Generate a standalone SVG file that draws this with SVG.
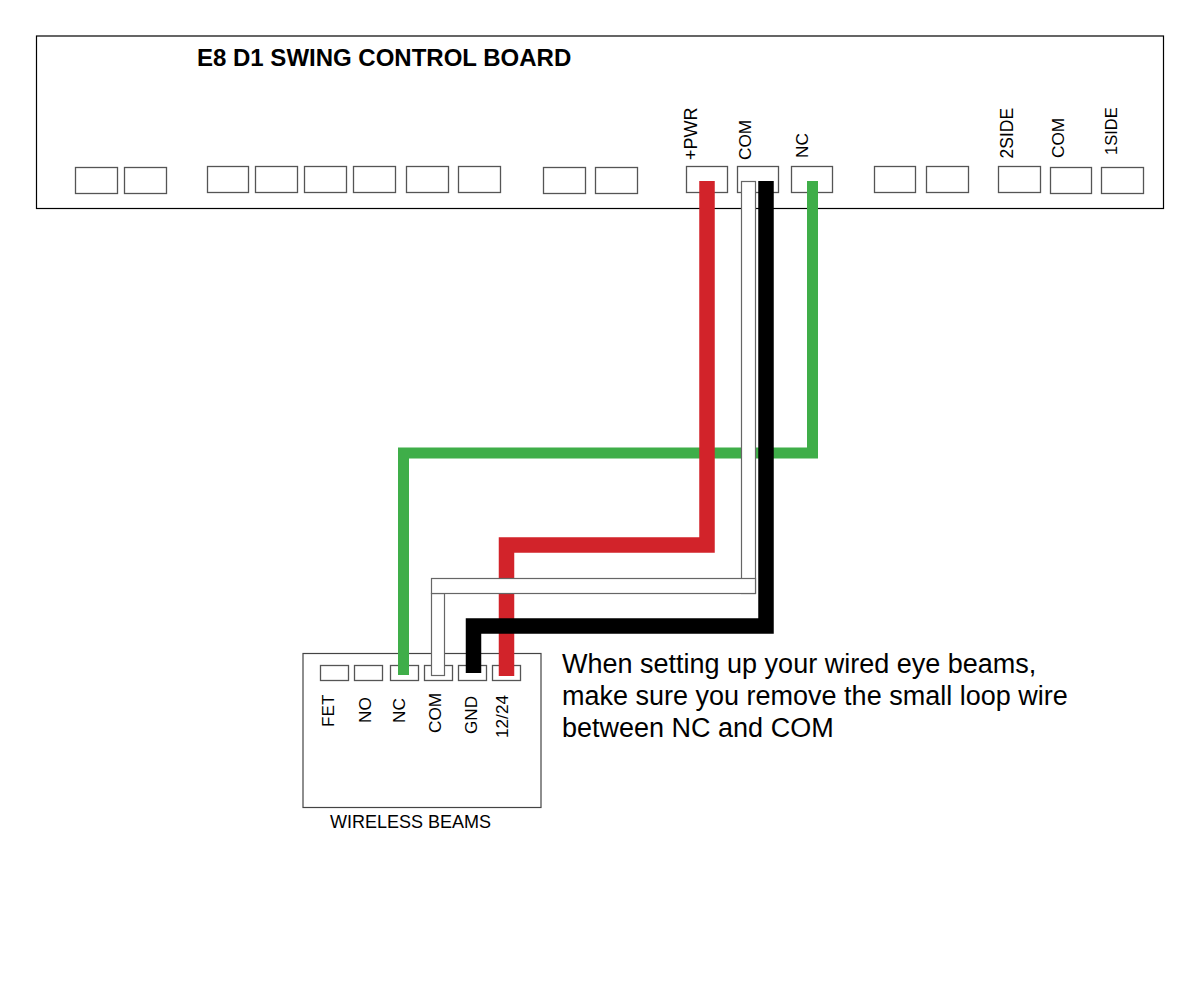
<svg xmlns="http://www.w3.org/2000/svg" width="1200" height="1000" viewBox="0 0 1200 1000">
<style>
text{font-family:"Liberation Sans",Arial,sans-serif;fill:#000}
.t{fill:#fff;stroke:#555;stroke-width:1.300}
.l{font-size:17.200px}
.w{fill:none;stroke-linejoin:miter}
.c{fill:#fff;stroke:#666;stroke-width:1.200}
</style>
<rect width="1200" height="1000" fill="#fff"/>
<g id="board">
<rect x="36.500" y="36" width="1127" height="172.500" fill="#fff" stroke="#000" stroke-width="1.200"/>
<text x="197" y="66" font-size="24" font-weight="bold">E8 D1 SWING CONTROL BOARD</text>
</g>
<g id="board-terminals">
<rect class="t" x="75.500" y="167.500" width="42" height="26"/>
<rect class="t" x="124.500" y="167.500" width="42" height="26"/>
<rect class="t" x="207.500" y="166.500" width="41" height="26"/>
<rect class="t" x="255.500" y="166.500" width="42" height="26"/>
<rect class="t" x="304.500" y="166.500" width="42" height="26"/>
<rect class="t" x="353.500" y="166.500" width="42" height="26"/>
<rect class="t" x="406.500" y="166.500" width="42" height="26"/>
<rect class="t" x="458.500" y="166.500" width="42" height="26"/>
<rect class="t" x="543.500" y="167.500" width="42" height="26"/>
<rect class="t" x="595.500" y="167.500" width="42" height="26"/>
<rect class="t" x="686.500" y="166.500" width="41" height="26"/>
<rect class="t" x="737.500" y="166.500" width="41" height="26"/>
<rect class="t" x="791.500" y="166.500" width="41" height="26"/>
<rect class="t" x="874.500" y="166.500" width="41" height="26"/>
<rect class="t" x="926.500" y="166.500" width="42" height="26"/>
<rect class="t" x="998.500" y="166.500" width="42" height="26"/>
<rect class="t" x="1050.500" y="167.500" width="41" height="26"/>
<rect class="t" x="1101.500" y="167.500" width="42" height="26"/>
<text class="l" style="font-size:18px" transform="translate(697 160) rotate(-90)">+PWR</text>
<text class="l" transform="translate(751 160) rotate(-90)">COM</text>
<text class="l" transform="translate(808 158) rotate(-90)">NC</text>
<text class="l" style="font-size:17.500px" transform="translate(1013 158.500) rotate(-90)">2SIDE</text>
<text class="l" transform="translate(1064 158) rotate(-90)">COM</text>
<text class="l" style="font-size:16.500px" transform="translate(1117 155) rotate(-90)">1SIDE</text>
</g>
<g id="beams">
<rect x="303" y="653.500" width="238" height="154" fill="#fff" stroke="#444" stroke-width="1.200"/>
<rect class="t" x="320.500" y="665.500" width="28" height="15"/>
<rect class="t" x="354.500" y="665.500" width="28" height="15"/>
<rect class="t" x="390.500" y="665.500" width="28" height="15"/>
<rect class="t" x="424.500" y="665.500" width="28" height="15"/>
<rect class="t" x="458.500" y="665.500" width="28" height="15"/>
<rect class="t" x="492.500" y="665.500" width="28" height="15"/>
<text class="l" transform="translate(334 727) rotate(-90)">FET</text>
<text class="l" transform="translate(371 723) rotate(-90)">NO</text>
<text class="l" transform="translate(405 723) rotate(-90)">NC</text>
<text class="l" transform="translate(441 733) rotate(-90)">COM</text>
<text class="l" transform="translate(477 734) rotate(-90)">GND</text>
<text class="l" transform="translate(508 738) rotate(-90)">12/24</text>
<text x="330" y="828" font-size="18">WIRELESS BEAMS</text>
</g>
<g id="connectors">
<path class="w" stroke="#3fae49" stroke-width="11" d="M812.500 181V453H403.500V675"/>
<path class="w" stroke="#d2232a" stroke-width="15.500" d="M707 181V545H506.500V676"/>
<rect class="c" x="741.500" y="181.500" width="14" height="412"/>
<rect class="c" x="431.500" y="593.500" width="13" height="82"/>
<rect class="c" x="431.500" y="578.500" width="324" height="15"/>
<path class="w" stroke="#000" stroke-width="15.500" d="M766 181V626H473.500V673"/>
</g>
<g id="note" font-size="27">
<text x="562" y="673">When setting up your wired eye beams,</text>
<text x="562" y="705">make sure you remove the small loop wire</text>
<text x="562" y="737">between NC and COM</text>
</g>
</svg>
